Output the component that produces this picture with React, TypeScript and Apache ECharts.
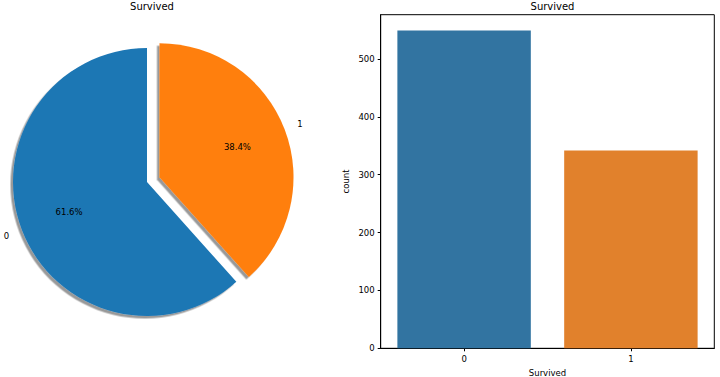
import React, { useEffect, useRef } from "react";
import * as echarts from "echarts";

const categories = ["0", "1"];
const counts = [549, 342];
const pieColors = ["#1f77b4", "#ff7f0e"];
const barColors = ["#3274a1", "#e1812c"];
const yTicks = [0, 100, 200, 300, 400, 500];
const titleText = "Survived";

const FONT = "DejaVu Sans";

export default function App() {
  const ref = useRef<HTMLDivElement>(null);
  useEffect(() => {
    document.body.style.margin = "0";
    const chart = echarts.init(ref.current!, null, { renderer: "svg" });
    const cx = 147;
    const cy = 182;
    const r = 134;
    const off = 13.4;
    const pieData = categories.map((c, i) => ({
      name: c,
      value: counts[i],
      selected: i === 1,
      itemStyle: { color: pieColors[i] },
    }));
    const common = {
      type: "pie",
      center: [cx, cy],
      startAngle: 90,
      clockwise: false,
      selectedMode: "single",
      selectedOffset: off,
      avoidLabelOverlap: false,
      labelLine: { show: false },
      emphasis: { disabled: true },
      animation: false,
    };
    chart.setOption({
      animation: false,
      textStyle: { fontFamily: FONT },
      title: [
        {
          text: titleText,
          left: cx,
          top: -4,
          textAlign: "center",
          textStyle: { fontSize: 10, fontWeight: "normal", color: "#000", fontFamily: FONT },
        },
        {
          text: titleText,
          left: 547.5,
          top: -4,
          textAlign: "center",
          textStyle: { fontSize: 10, fontWeight: "normal", color: "#000", fontFamily: FONT },
        },
      ],
      grid: {
        left: 380.7,
        right: 5.7,
        top: 14.7,
        bottom: 28.7,
        outerBoundsMode: "none",
        containLabel: false,
        show: true,
        borderColor: "#000",
        borderWidth: 1,
        backgroundColor: "transparent",
      },
      xAxis: {
        type: "category",
        data: categories,
        boundaryGap: true,
        name: "Survived",
        nameLocation: "middle",
        nameGap: 17,
        nameTextStyle: { fontSize: 8.5, color: "#000", fontFamily: FONT },
        axisLine: { show: true, lineStyle: { color: "#000", width: 1 } },
        axisTick: { show: true, alignWithLabel: true, length: 3, lineStyle: { color: "#000" } },
        axisLabel: { fontSize: 8.5, color: "#000", margin: 6, fontFamily: FONT },
        splitLine: { show: false },
      },
      yAxis: {
        type: "value",
        min: 0,
        max: 576.45,
        name: "count",
        nameLocation: "middle",
        nameGap: 30,
        nameRotate: 90,
        nameTextStyle: { fontSize: 8.5, color: "#000", fontFamily: FONT },
        axisLine: { show: true, lineStyle: { color: "#000", width: 1 } },
        axisTick: { show: true, length: 3, lineStyle: { color: "#000" }, customValues: yTicks },
        axisLabel: { fontSize: 8.5, color: "#000", margin: 6, fontFamily: FONT, customValues: yTicks },
        splitLine: { show: false },
      },
      series: [
        {
          ...common,
          radius: [0, r],
          data: pieData,
          label: { show: false },
          itemStyle: {
            shadowColor: "rgba(0,0,0,0.4)",
            shadowBlur: 1,
            shadowOffsetX: -2.5,
            shadowOffsetY: 2.5,
          },
        },
        {
          ...common,
          silent: true,
          radius: [r * 0.2, r],
          percentPrecision: 1,
          data: categories.map((c, i) => ({
            name: c,
            value: counts[i],
            selected: i === 1,
            itemStyle: { color: "rgba(0,0,0,0)" },
          })),
          label: {
            show: true,
            position: "inside",
            formatter: "{d}%",
            fontSize: 8.5,
            color: "#000",
            fontFamily: FONT,
          },
        },
        {
          ...common,
          silent: true,
          radius: [r, r * 1.2],
          data: categories.map((c, i) => ({
            name: c,
            value: counts[i],
            selected: i === 1,
            itemStyle: { color: "rgba(0,0,0,0)" },
            label: { align: i === 0 ? "right" : "left" },
          })),
          label: {
            show: true,
            position: "inside",
            formatter: "{b}",
            fontSize: 8.5,
            color: "#000",
            fontFamily: FONT,
          },
        },
        {
          type: "bar",
          data: counts.map((v, i) => ({ value: v, itemStyle: { color: barColors[i] } })),
          barWidth: "80%",
          emphasis: { disabled: true },
        },
      ],
    });
    return () => chart.dispose();
  }, []);
  return <div ref={ref} style={{ width: 720, height: 377 }} />;
}
